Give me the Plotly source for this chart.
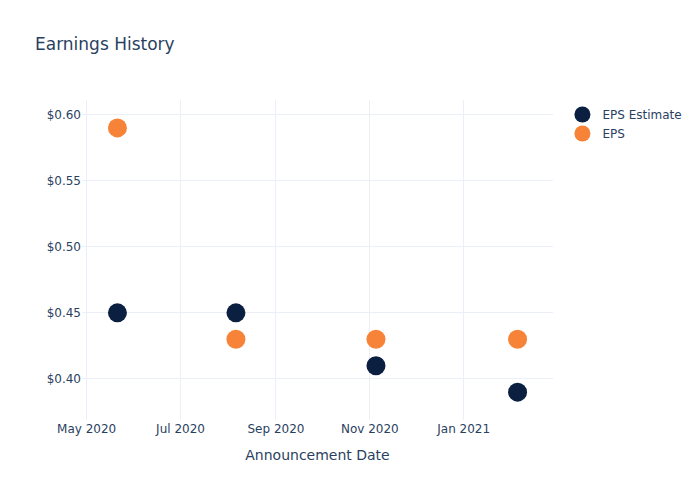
import plotly.graph_objects as go

# announcement dates and per-quarter values
dates = ["2020-05-21", "2020-08-06", "2020-11-05", "2021-02-05"]
eps_estimate = [0.45, 0.45, 0.41, 0.39]
eps_actual = [0.59, 0.43, 0.43, 0.43]

NAVY = "#0b1f40"
ORANGE = "#f68338"

fig = go.Figure()
fig.add_trace(go.Scatter(
    x=dates, y=eps_estimate, mode="markers", name="EPS Estimate",
    marker=dict(color=NAVY, size=19),
))
fig.add_trace(go.Scatter(
    x=dates, y=eps_actual, mode="markers", name="EPS",
    marker=dict(color=ORANGE, size=19),
))

fig.update_layout(
    template="plotly_white",
    font=dict(family="DejaVu Sans"),
    title=dict(text="Earnings History", x=27 / 700, xref="container", xanchor="left",
               y=1 - 36 / 500, yanchor="middle"),
    width=700,
    height=500,
    # page body adds an 8px offset; margins compensate so the plot area lands where the reference has it
    margin=dict(l=74, r=155, t=92, b=88),
    xaxis=dict(title="Announcement Date", tickformat="%b %Y", dtick="M2"),
    yaxis=dict(tickprefix="$", tickformat=".2f"),
)

fig.write_html("out.html")
